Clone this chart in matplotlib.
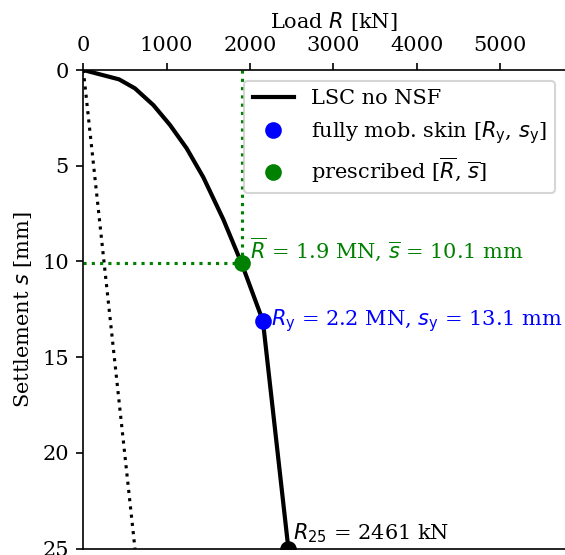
import matplotlib
matplotlib.use('Agg')
import matplotlib.pyplot as plt

plt.rcParams['font.family'] = 'DejaVu Serif'
plt.rcParams['font.size'] = 10
plt.rcParams['mathtext.fontset'] = 'dejavusans'

# load-settlement curve (no negative skin friction)
R_lsc = [0, 430, 620, 840, 1040, 1240, 1440, 1680, 1900, 2155, 2461]
s_lsc = [0, 0.49, 0.96, 1.83, 2.87, 4.09, 5.6, 7.8, 10.1, 13.1, 25]

# elastic shortening line
R_el = [0, 620]
s_el = [0, 25]

R_y, s_y = 2155, 13.1
R_bar, s_bar = 1900, 10.1
R_25, s_25 = 2461, 25

fig = plt.figure(figsize=(565/150, 555/150), dpi=150)
ax = fig.add_axes([83.3/565, 1 - 548.7/555, 500/565, 478.7/555])

ax.plot(R_lsc, s_lsc, color='black', lw=2, label='LSC no NSF')
ax.plot(R_el, s_el, color='black', ls=':', lw=1.5)
ax.plot([0, R_bar], [s_bar, s_bar], color='green', ls=':', lw=1.5)
ax.plot([R_bar, R_bar], [0, s_bar], color='green', ls=':', lw=1.5)

ax.plot(R_y, s_y, 'o', color='blue', ms=7, label=r'fully mob. skin [$R_\mathrm{y}$, $s_\mathrm{y}$]')
ax.plot(R_bar, s_bar, 'o', color='green', ms=7, label=r'prescribed [$\overline{R}$, $\overline{s}$]')
ax.plot(R_25, s_25, 'o', color='black', ms=7)

ax.annotate(r'$\overline{R}$ = %.1f MN, $\overline{s}$ = %.1f mm' % (R_bar / 1000, s_bar),
            (R_bar, s_bar), xytext=(4, 0), textcoords='offset points',
            ha='left', va='bottom', color='green')
ax.annotate(r'$R_\mathrm{y}$ = %.1f MN, $s_\mathrm{y}$ = %.1f mm' % (R_y / 1000, s_y),
            (R_y, s_y), xytext=(4, 0), textcoords='offset points',
            ha='left', va='center', color='blue')
ax.annotate(r'$R_{25}$ = %d kN' % R_25,
            (R_25, s_25), xytext=(2, 2), textcoords='offset points',
            ha='left', va='bottom', color='black')

ax.set_xlim(0, 6000)
ax.set_ylim(25, 0)
ax.set_xticks([0, 1000, 2000, 3000, 4000, 5000])
ax.set_yticks([0, 5, 10, 15, 20, 25])
ax.xaxis.tick_top()
ax.xaxis.set_label_position('top')
ax.set_xlabel('Load $R$ [kN]')
ax.set_ylabel('Settlement $s$ [mm]')

ax.legend(loc='upper right', bbox_to_anchor=(555/565, 1 - 81/555),
          bbox_transform=fig.transFigure, borderaxespad=0)

fig.savefig('out.png', dpi=150)
